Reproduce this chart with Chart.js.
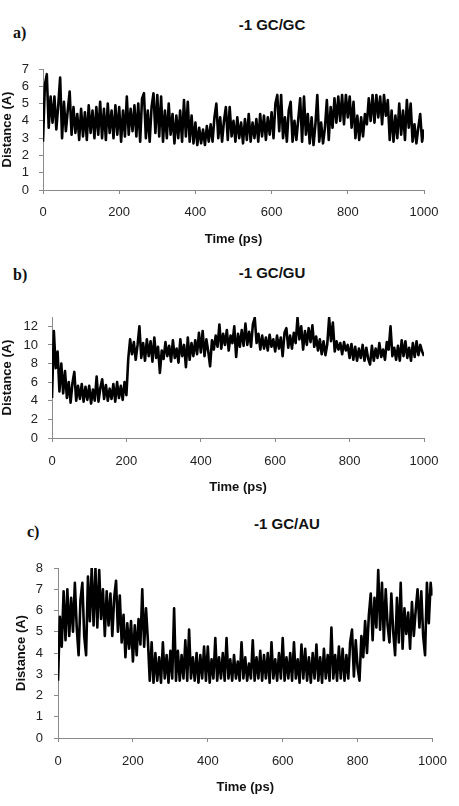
<!DOCTYPE html>
<html>
<head>
<meta charset="utf-8">
<script src="https://cdn.jsdelivr.net/npm/chart.js@4"></script>
<style>
  html, body { margin: 0; padding: 0; background: #fff; }
  #page { position: relative; width: 459px; height: 806px; overflow: hidden; background: #fff; }
  canvas { position: absolute; left: 0; }
  .ttl { position: absolute; font: bold 15px "Liberation Sans", Arial, sans-serif; color: #111; transform: translate(-50%, -50%); white-space: nowrap; }
  .lbl { position: absolute; font: bold 16px "Liberation Serif", "Times New Roman", serif; color: #111; transform: translateY(-50%); }
</style>
</head>
<body>
<div id="page">
  <div class="lbl" style="left:13px; top:33px;">a)</div>
  <div class="ttl" style="left:272px; top:24px;">-1 GC/GC</div>
  <canvas id="ca" width="459" height="250" style="top:0px;"></canvas>

  <div class="lbl" style="left:13px; top:275px;">b)</div>
  <div class="ttl" style="left:272px; top:272px;">-1 GC/GU</div>
  <canvas id="cb" width="459" height="250" style="top:250px;"></canvas>

  <div class="lbl" style="left:27px; top:532px;">c)</div>
  <div class="ttl" style="left:287px; top:523px;">-1 GC/AU</div>
  <canvas id="cc" width="459" height="306" style="top:500px;"></canvas>
</div>
<script>
// Sampling grid: time in ps, every 5 ps from 0 to 1000
const timePs = Array.from({length: 201}, (_, i) => i * 5);
const xTicks = [0, 200, 400, 600, 800, 1000];

const titles = ["-1 GC/GC", "-1 GC/GU", "-1 GC/AU"];
const xTitle = "Time (ps)";
const yTitle = "Distance (A)";

// a) -1 GC/GC distance (Å)
const distGCGC = [
2.8,6.1,6.7,3.6,5.4,3.9,5.4,3.5,4.9,6.5,3.0,5.1,3.4,4.6,5.7,3.2,4.8,3.3,4.4,2.9,
4.7,3.1,4.5,2.9,4.9,3.3,4.6,3.0,4.8,3.2,5.1,3.0,4.7,2.9,5.0,3.3,4.6,3.0,4.9,3.2,
4.8,2.8,4.6,3.1,5.4,3.2,4.7,3.4,4.9,3.1,5.0,2.8,5.3,5.6,3.0,4.6,2.8,4.8,5.6,3.3,
5.5,3.1,5.4,2.8,4.6,3.0,5.0,3.2,4.4,2.7,4.3,3.0,4.6,2.8,5.2,3.1,5.1,2.8,4.3,2.7,
3.9,2.6,3.6,2.7,3.5,2.6,3.7,2.8,3.8,2.8,4.2,5.0,3.0,4.2,2.8,4.0,4.8,2.9,4.8,3.1,
4.0,2.8,4.2,3.0,3.9,2.7,4.1,2.9,4.4,2.8,3.9,3.0,4.1,2.8,4.4,3.1,4.3,2.9,4.2,3.2,
4.5,3.0,5.0,5.5,3.4,5.5,3.0,4.2,2.8,4.6,5.1,2.8,4.0,2.9,4.1,5.3,2.8,5.4,3.2,4.4,
2.7,4.2,2.6,3.8,5.5,2.8,3.9,2.7,3.6,5.2,2.9,4.8,3.6,5.3,3.9,5.4,4.0,5.5,3.8,5.5,
4.2,5.4,3.6,5.1,3.0,4.3,2.9,4.2,3.1,4.4,3.8,5.3,4.0,5.5,3.9,5.5,4.2,5.4,3.8,5.5,
4.3,5.2,2.9,4.6,2.8,4.3,3.0,5.0,3.2,4.6,2.9,5.2,3.6,5.0,2.8,3.8,2.7,3.6,4.4,2.8,
3.5
];

// b) -1 GC/GU distance (Å)
const distGCGU = [
4.3,11.5,7.5,9.3,5.0,8.0,4.8,7.2,4.3,6.0,3.8,5.9,7.1,4.0,5.6,4.2,5.8,3.9,5.5,4.1,
5.6,3.7,5.2,4.0,6.6,3.9,5.4,6.3,4.2,5.7,4.0,5.3,4.2,5.8,3.9,6.0,4.3,5.6,4.1,6.0,
4.6,8.5,10.6,9.0,10.3,8.4,10.0,12.0,8.6,10.2,8.3,10.6,8.8,10.4,8.2,10.8,8.6,9.8,7.0,9.4,
8.5,10.3,8.8,9.9,8.2,10.5,8.6,9.6,8.1,10.6,8.8,10.0,7.6,10.8,8.4,10.2,8.8,10.5,9.0,11.3,
9.2,11.5,8.8,10.6,9.3,7.7,10.5,9.5,11.0,9.8,12.2,9.6,11.2,10.0,11.6,9.4,11.0,10.2,12.0,8.7,
11.2,9.8,11.6,9.9,12.3,10.0,11.4,9.8,12.2,12.9,10.2,11.2,9.5,11.0,9.6,10.8,9.4,11.1,9.8,10.6,
9.3,11.0,9.6,10.8,8.8,11.3,11.8,9.7,11.0,9.6,11.3,10.2,12.9,10.6,12.0,9.5,11.5,10.0,11.8,10.3,
12.1,9.8,10.9,9.4,10.6,9.0,10.4,8.9,10.1,12.9,10.4,12.4,9.3,10.4,9.5,10.2,9.0,10.3,9.4,10.0,
8.6,10.1,8.4,9.8,8.3,9.6,8.6,10.0,8.3,9.7,8.5,7.9,9.9,8.3,9.6,8.6,10.2,8.7,9.5,8.4,
10.3,9.5,12.0,8.8,9.7,8.4,9.9,8.3,10.5,8.8,10.4,8.6,9.7,8.3,10.2,8.7,10.4,8.9,10.0,9.3,
8.8
];

// c) -1 GC/AU distance (Å)
const distGCAU = [
2.7,5.7,4.3,6.9,4.6,7.0,4.8,6.6,5.0,7.3,5.2,3.9,6.5,7.3,4.8,3.9,7.6,5.5,8.0,5.3,
8.0,5.2,7.9,5.6,7.0,4.8,6.9,5.3,6.8,4.8,6.6,7.4,5.0,6.7,4.5,5.8,3.8,5.4,4.2,5.5,
3.6,5.3,3.9,5.6,4.4,7.0,4.3,6.1,4.6,2.7,4.5,2.6,4.0,2.7,3.8,2.6,4.5,2.8,3.9,2.6,
4.1,2.8,6.1,2.7,4.1,2.7,3.9,2.8,4.6,2.7,5.1,2.8,3.8,2.7,4.0,2.6,3.9,2.8,4.3,2.7,
4.3,2.6,3.7,2.8,4.7,2.7,3.8,2.8,4.0,2.7,4.7,2.8,3.7,2.7,3.9,2.8,3.6,2.7,4.5,2.8,
3.8,2.7,3.5,2.8,4.6,2.7,3.8,2.8,4.1,2.7,3.9,2.8,4.0,2.6,4.5,2.8,3.7,2.7,4.0,2.8,
4.7,2.7,3.8,2.8,4.0,2.7,4.5,2.8,3.7,2.6,4.4,2.8,4.2,2.7,3.8,2.6,4.0,2.8,4.4,2.7,
3.8,2.6,4.2,2.8,3.9,2.7,5.2,2.8,3.9,2.7,4.3,2.8,4.2,2.7,3.9,2.8,4.5,5.1,2.9,4.6,
3.3,2.7,4.8,3.8,5.5,4.0,5.8,6.8,4.6,6.6,5.2,7.9,5.1,7.3,4.6,7.0,5.3,4.5,6.8,5.0,
3.9,6.6,4.5,7.3,4.2,6.1,4.9,5.9,4.2,6.4,4.8,6.0,7.0,5.2,6.9,4.8,3.9,7.3,5.4,7.3,
6.7
];

const axisGray = '#8a8a8a';
const tickColor = '#222';
const fontFam = '"Liberation Sans", Arial, sans-serif';

function makeChart(canvasId, values, cfg) {
  const points = values.map((v, i) => ({x: timePs[i], y: v}));
  return new Chart(document.getElementById(canvasId), {
    type: 'line',
    data: {
      datasets: [{
        data: points,
        borderColor: '#000',
        borderWidth: 2.6,
        borderJoinStyle: 'round',
        pointRadius: 0,
        tension: 0,
        fill: false
      }]
    },
    options: {
      responsive: false,
      animation: false,
      devicePixelRatio: 1,
      layout: { padding: { left: 0, right: cfg.padRight, top: cfg.padTop, bottom: 0 } },
      plugins: { legend: { display: false }, tooltip: { enabled: false }, title: { display: false } },
      scales: {
        x: {
          type: 'linear',
          min: 0, max: 1000,
          afterBuildTicks: (s) => { s.ticks = xTicks.map(v => ({value: v})); },
          afterFit: (s) => { s.height = cfg.xHeight; },
          ticks: { color: tickColor, font: { family: fontFam, size: 13 }, padding: cfg.xTickPad, maxRotation: 0, autoSkip: false, callback: (v) => String(v) },
          grid: { display: true, drawOnChartArea: false, drawTicks: true, tickLength: 4, color: axisGray },
          border: { display: true, color: axisGray, width: 1 },
          title: { display: true, text: xTitle, color: '#111', font: { family: fontFam, size: 13, weight: 'bold' }, padding: { top: 0, bottom: cfg.xTitlePad } }
        },
        y: {
          type: 'linear',
          min: 0, max: cfg.yMax,
          afterBuildTicks: (s) => { s.ticks = cfg.yTicks.map(v => ({value: v})); },
          afterFit: (s) => { s.width = cfg.yWidth; },
          ticks: { color: tickColor, font: { family: fontFam, size: 13 }, padding: cfg.yTickPad, autoSkip: false, callback: (v) => String(v) },
          grid: { display: true, drawOnChartArea: false, drawTicks: true, tickLength: 4, color: axisGray },
          border: { display: true, color: axisGray, width: 1 },
          title: { display: true, text: yTitle, color: '#111', font: { family: fontFam, size: 13, weight: 'bold' }, padding: { top: cfg.yTitlePad, bottom: 0 } }
        }
      }
    }
  });
}

const yTicksA = [0, 1, 2, 3, 4, 5, 6, 7];
const yTicksB = [0, 2, 4, 6, 8, 10, 12];
const yTicksC = [0, 1, 2, 3, 4, 5, 6, 7, 8];

makeChart('ca', distGCGC, { yMax: 7, yTicks: yTicksA, padRight: 35, padTop: 69, xHeight: 60, yWidth: 43, xTickPad: 11, xTitlePad: 3, yTickPad: 10, yTitlePad: 0 });
makeChart('cb', distGCGU, { yMax: 13, yTicks: yTicksB, padRight: 35, padTop: 67, xHeight: 62, yWidth: 52, xTickPad: 12, xTitlePad: 5, yTickPad: 10, yTitlePad: 0 });
makeChart('cc', distGCAU, { yMax: 8, yTicks: yTicksC, padRight: 17, padTop: 68, xHeight: 68, yWidth: 58, xTickPad: 12, xTitlePad: 11, yTickPad: 11, yTitlePad: 14 });
</script>
</body>
</html>
